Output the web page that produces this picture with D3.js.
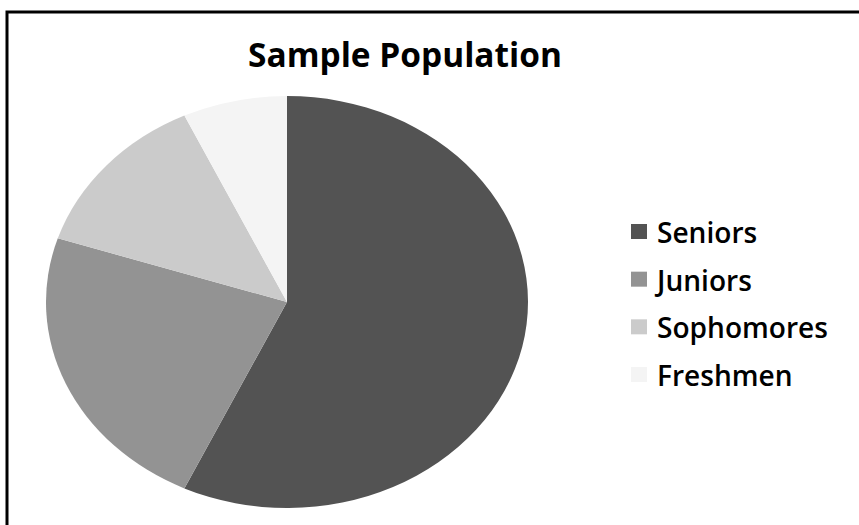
<!DOCTYPE html>
<html><head><meta charset="utf-8">
<script src="https://cdn.jsdelivr.net/npm/d3@7"></script>
<style>html,body{margin:0;padding:0;background:#fff;}svg{display:block;}</style>
</head><body>
<svg id="c" width="859" height="525"></svg>
<script>
const categories = ["Seniors", "Juniors", "Sophomores", "Freshmen"];
const values = [57, 23, 13, 7];
const colors = ["#535353", "#939393", "#cbcbcb", "#f4f4f4"];
const title = "Sample Population";

const svg = d3.select("#c");
const W = 859, H = 525;
svg.append("rect").attr("width", W).attr("height", H).attr("fill", "#fff");
// frame (top and left visible)
svg.append("path").attr("d", "M7,525 V12 H859").attr("fill", "none").attr("stroke", "#000").attr("stroke-width", 3);

const fontFam = "'Open Sans', 'DejaVu Sans', sans-serif";

// title
const t = svg.append("text").attr("x", 405).attr("y", 67).attr("text-anchor", "middle")
  .attr("font-family", fontFam).attr("font-weight", "bold").attr("font-size", 30).attr("fill", "#000").text(title);
{
  const w = t.node().getComputedTextLength();
  t.attr("font-size", 30 * 314 / w);
}

// pie (elliptical)
const cx = 287, cy = 302, rx = 241, ry = 206;
const pie = d3.pie().sort(null).value(d => d.v);
const data = categories.map((c, i) => ({ c, v: values[i], col: colors[i] }));
const arc = d3.arc().innerRadius(0).outerRadius(ry);
const g = svg.append("g").attr("transform", `translate(${cx},${cy}) scale(${rx / ry},1)`);
g.selectAll("path").data(pie(data)).join("path")
  .attr("d", arc).attr("fill", d => d.data.col);

// legend
const color = d3.scaleOrdinal().domain(categories).range(colors);
const ly = d3.scalePoint().domain(categories).range([243, 386]);
const lg = svg.append("g");
const items = lg.selectAll("g").data(categories).join("g");
items.append("rect").attr("x", 631).attr("y", d => ly(d) - 19).attr("width", 16).attr("height", 15)
  .attr("fill", d => color(d));
const texts = items.append("text").attr("x", 657).attr("y", d => ly(d))
  .attr("font-family", fontFam).attr("font-weight", 600).attr("font-size", 24).attr("fill", "#000").text(d => d);
{
  const node = texts.filter(d => d === "Sophomores").node();
  const w = node.getComputedTextLength();
  texts.attr("font-size", 24 * 171 / w);
}
</script>
</body></html>
